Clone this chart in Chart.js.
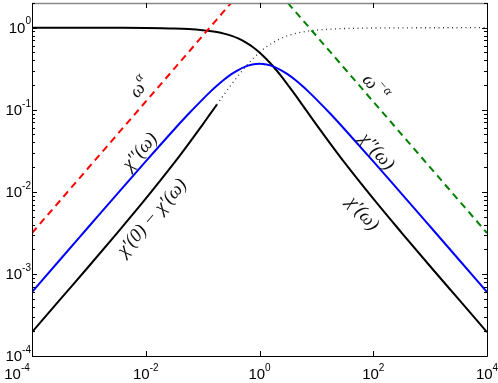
<!DOCTYPE html>
<html>
<head>
<meta charset="utf-8">
<script src="https://cdn.jsdelivr.net/npm/chart.js@4/dist/chart.umd.min.js"></script>
<style>
  html, body { margin: 0; padding: 0; background: #fff; }
  canvas { display: block; }
</style>
</head>
<body>
<canvas id="relaxChart" width="498" height="383"></canvas>
<script>
// frequency grid (omega) and the curves
var omega = [1e-4, 3.16e-4, 1e-3, 3.16e-3, 0.01, 0.0316, 0.0562, 0.1, 0.133, 0.178,
  0.237, 0.316, 0.422, 0.562, 0.75, 1, 1.33, 1.78, 2.37, 3.16, 4.22, 5.62, 7.5,
  10, 17.8, 31.6, 100, 316, 1000, 3162, 1e4];

var chiReal = [0.9998, 0.9995, 0.9988, 0.9968, 0.9917, 0.9775, 0.9618, 0.934, 0.913, 0.884,
  0.847, 0.800, 0.740, 0.668, 0.587, 0.5, 0.413, 0.332, 0.260, 0.200, 0.153, 0.1155, 0.0872,
  0.0660, 0.0382, 0.0225, 0.00826, 0.00317, 0.00124, 4.92e-4, 1.95e-4];

var chiLoss = [6.0e-4, 1.51e-3, 3.78e-3, 9.45e-3, 0.0235, 0.0575, 0.0887, 0.134, 0.163, 0.196,
  0.232, 0.270, 0.305, 0.336, 0.356, 0.363, 0.356, 0.336, 0.305, 0.270, 0.232, 0.196, 0.163,
  0.134, 0.0887, 0.0575, 0.0235, 9.45e-3, 3.78e-3, 1.51e-3, 6.0e-4];

var chiDiff = [1.95e-4, 4.92e-4, 1.24e-3, 3.17e-3, 8.26e-3, 0.0225, 0.0382, 0.0660, 0.0872, 0.1155,
  0.153, 0.200, 0.260, 0.332, 0.413, 0.5, 0.587, 0.668, 0.740, 0.800, 0.847, 0.884, 0.913,
  0.934, 0.9618, 0.9775, 0.9917, 0.9968, 0.9988, 0.9995, 0.9998];
var diffSolidEnd = 9;   // chiDiff is solid up to this index, dotted after

// power-law guide lines
var upX = [1e-4, 0.316], upY = [3.15e-3, 2.0];
var downX = [3.16, 1e4], downY = [2.0, 3.15e-3];

var xTickExps = [-4, -2, 0, 2, 4];
var yTickExps = [-4, -3, -2, -1, 0];

function pts(xs, ys, from, to) {
  var out = [];
  for (var i = 0; i < xs.length; i++) {
    if (from !== undefined && (i < from || i > to)) continue;
    out.push({x: xs[i], y: ys[i]});
  }
  return out;
}

function line(data, color, width, dash) {
  return {
    data: data, showLine: true, borderColor: color, backgroundColor: color,
    borderWidth: width, borderDash: dash || [], pointRadius: 0, fill: false,
    cubicInterpolationMode: 'monotone'
  };
}

// text labels along the curves (data coordinates)
var notes = [
  {x: 0.0080, y: 0.185, a: -49, parts: [['ω', 0], ['α', 1]]},
  {x: 0.0080, y: 0.0308, a: -49, parts: [['χ′′(ω)', 0]]},
  {x: 0.013, y: 0.00482, a: -49, parts: [['χ′(0) − χ′(ω)', 0]]},
  {x: 115, y: 0.0308, a: 49, parts: [['χ′′(ω)', 0]]},
  {x: 65, y: 0.0054, a: 49, parts: [['χ′(ω)', 0]]},
  {x: 106, y: 0.185, a: 49, parts: [['ω', 0], ['−α', 1]]}
];

function drawParts(ctx, parts, size) {
  var fonts = [], w = 0;
  parts.forEach(function(p) {
    var f = 'italic ' + (p[1] ? Math.round(size * 0.7) : size) + 'px "Liberation Serif", serif';
    ctx.font = f;
    fonts.push([f, ctx.measureText(p[0]).width]);
    w += fonts[fonts.length - 1][1];
  });
  var x = -w / 2;
  parts.forEach(function(p, i) {
    ctx.font = fonts[i][0];
    ctx.fillText(p[0], x, p[1] ? -size * 0.4 : 0);
    x += fonts[i][1];
  });
}

function tickLabel(ctx, exp, px, py, align) {
  var base = '10', sup = String(exp);
  ctx.font = '15px "Liberation Sans", Arial, sans-serif';
  var bw = ctx.measureText(base).width;
  ctx.font = '10px "Liberation Sans", Arial, sans-serif';
  var sw = ctx.measureText(sup).width;
  var left = align === 'right' ? px - bw - sw : px - (bw + sw) / 2;
  ctx.textBaseline = 'middle';
  ctx.font = '15px "Liberation Sans", Arial, sans-serif';
  ctx.fillText(base, left, py);
  ctx.font = '10px "Liberation Sans", Arial, sans-serif';
  ctx.fillText(sup, left + bw, py - 7);
}

var axesPlugin = {
  id: 'axesPlugin',
  afterDraw: function(chart) {
    var ctx = chart.ctx, a = chart.chartArea;
    var xs = chart.scales.x, ys = chart.scales.y;
    ctx.save();
    ctx.strokeStyle = '#000';
    ctx.fillStyle = '#000';
    ctx.lineWidth = 1;
    // box
    ctx.beginPath();
    ctx.moveTo(a.left + 0.5, a.top);
    ctx.lineTo(a.left + 0.5, a.bottom + 0.5);
    ctx.lineTo(a.right + 0.5, a.bottom + 0.5);
    ctx.lineTo(a.right + 0.5, a.top);
    ctx.stroke();
    ctx.strokeStyle = '#888';
    ctx.lineWidth = 1.5;
    ctx.beginPath();
    ctx.moveTo(a.left, a.top + 0.5);
    ctx.lineTo(a.right + 1, a.top + 0.5);
    ctx.stroke();
    ctx.strokeStyle = '#000';
    ctx.lineWidth = 1;
    // y ticks, major + minor, both sides
    ctx.beginPath();
    for (var e = -4; e <= 0; e++) {
      for (var m = 1; m <= 9; m++) {
        var v = m * Math.pow(10, e);
        if (v > ys.max) break;
        var py = Math.round(ys.getPixelForValue(v)) + 0.5;
        var len = m === 1 ? 5 : 3;
        ctx.moveTo(a.left, py); ctx.lineTo(a.left + len, py);
        ctx.moveTo(a.right, py); ctx.lineTo(a.right - len, py);
      }
    }
    // x ticks
    xTickExps.forEach(function(e) {
      var px = Math.round(xs.getPixelForValue(Math.pow(10, e))) + 0.5;
      ctx.moveTo(px, a.bottom); ctx.lineTo(px, a.bottom - 5);
      ctx.moveTo(px, a.top); ctx.lineTo(px, a.top + 5);
    });
    ctx.stroke();
    // tick labels
    yTickExps.forEach(function(e) {
      tickLabel(ctx, e, a.left - 1, ys.getPixelForValue(Math.pow(10, e)) + 1, 'right');
    });
    xTickExps.forEach(function(e, i) {
      var px = xs.getPixelForValue(Math.pow(10, e));
      if (i === 0) px = 17;
      tickLabel(ctx, e, px, a.bottom + 19, 'center');
    });
    // curve labels
    ctx.fillStyle = '#111';
    ctx.textBaseline = 'middle';
    notes.forEach(function(n) {
      ctx.save();
      ctx.translate(xs.getPixelForValue(n.x), ys.getPixelForValue(n.y));
      ctx.rotate(n.a * Math.PI / 180);
      drawParts(ctx, n.parts, 19);
      ctx.restore();
    });
    ctx.restore();
  }
};

var canvas = document.getElementById('relaxChart');
var plot = new Chart(canvas.getContext('2d'), {
  type: 'scatter',
  data: {
    datasets: [
      line(pts(upX, upY), '#ff0000', 2, [7, 5]),
      line(pts(downX, downY), '#008000', 2, [7, 5]),
      line(pts(omega, chiLoss), '#0000ff', 2),
      line(pts(omega, chiReal), '#000000', 2),
      line(pts(omega, chiDiff, 0, diffSolidEnd), '#000000', 2),
      line(pts(omega, chiDiff, diffSolidEnd, omega.length - 1), '#333333', 1.3, [1, 3.5])
    ]
  },
  options: {
    responsive: false,
    animation: false,
    devicePixelRatio: 1,
    layout: { padding: { left: 32, top: 3, right: 11, bottom: 27 } },
    plugins: { legend: { display: false }, tooltip: { enabled: false } },
    scales: {
      x: { type: 'logarithmic', min: 1e-4, max: 1e4, display: false },
      y: { type: 'logarithmic', min: 1e-4, max: 2, display: false }
    }
  },
  plugins: [axesPlugin]
});
</script>
</body>
</html>
